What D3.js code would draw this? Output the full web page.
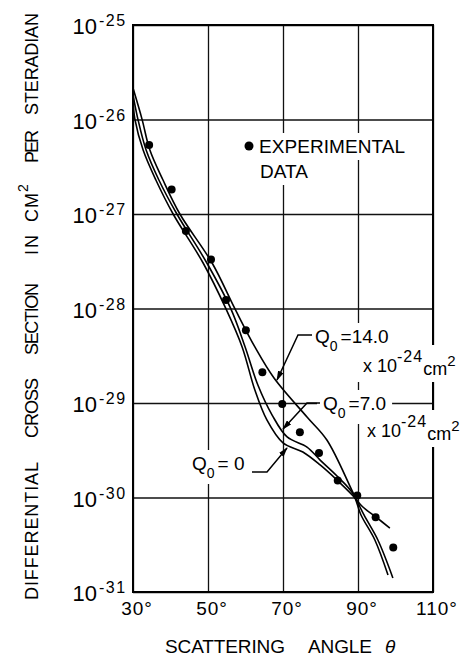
<!DOCTYPE html>
<html>
<head>
<meta charset="utf-8">
<script src="https://cdn.jsdelivr.net/npm/d3@7"></script>
<style>
body { margin: 0; background: #fff; }
svg { display: block; font-family: "Liberation Sans", Arial, sans-serif; }
</style>
</head>
<body>
<div id="chart"></div>
<script>
// scattering angle (degrees) and differential cross section (cm^2 per steradian)
var expAngle = [34.3, 40.3, 44.1, 50.8, 54.8, 60.1, 64.5, 69.8, 74.5, 79.6, 84.6, 89.8, 94.7, 99.4];
var expValue = [5.37e-27, 1.82e-27, 6.61e-28, 3.31e-28, 1.23e-28, 5.89e-29, 2.11e-29, 9.77e-30,
                4.9e-30, 2.95e-30, 1.51e-30, 1.05e-30, 6.17e-31, 2.95e-31];

// Q0 = 14.0 x 10^-24 cm^2
var q14Angle = [30, 32.4, 34.5, 38.0, 42.5, 51.1, 57.2, 62.5, 67.6, 76.4, 81.7, 88.7, 91.6, 95.3, 99.3];
var q14Value = [2.15e-26, 1.01e-26, 4.75e-27, 2.29e-27, 1.0e-27, 3.03e-28, 9.9e-29, 3.92e-29,
                1.84e-29, 7.11e-30, 4.06e-30, 1.12e-30, 6.53e-31, 3.55e-31, 1.41e-31];

// Q0 = 7.0 x 10^-24 cm^2
var q7Angle = [30, 31.3, 33.5, 36.9, 41.7, 49.7, 56.1, 59.9, 63.3, 67.1, 71.1, 76.4, 79.9, 84.4,
               88.7, 90.8, 94.5, 98.0];
var q7Value = [1.82e-26, 1.01e-26, 4.75e-27, 2.29e-27, 1.0e-27, 3.03e-28, 9.9e-29, 3.92e-29,
               1.55e-29, 7.46e-30, 4.37e-30, 3.42e-30, 2.49e-30, 1.69e-30, 1.09e-30, 6.53e-31,
               3.55e-31, 1.51e-31];

// Q0 = 0
var q0Angle = [30, 30.5, 32.7, 36.1, 40.7, 48.7, 54.8, 59.1, 62.5, 65.7, 70.0, 75.3, 79.9, 84.4,
               88.7, 91.3, 95.1, 98.5];
var q0Value = [1.57e-26, 1.01e-26, 4.75e-27, 2.29e-27, 1.0e-27, 3.03e-28, 9.9e-29, 3.92e-29,
               1.37e-29, 6.61e-30, 3.78e-30, 3.03e-30, 2.21e-30, 1.53e-30, 1.04e-30, 7.93e-31,
               6.07e-31, 4.75e-31];

var xTicks = [30, 50, 70, 90, 110];
var yExponents = [-25, -26, -27, -28, -29, -30, -31];

var width = 473,
    height = 659;

var x = d3.scaleLinear().domain([30, 110]).range([133, 433]);
var y = d3.scaleLog().domain([1e-31, 1e-25]).range([592, 25]);

var svg = d3.select("#chart")
    .append("svg")
    .attr("width", width)
    .attr("height", height);

svg.append("defs").append("marker")
    .attr("id", "arrow")
    .attr("markerUnits", "userSpaceOnUse")
    .attr("markerWidth", 10)
    .attr("markerHeight", 6)
    .attr("refX", 9)
    .attr("refY", 3)
    .attr("orient", "auto")
    .append("path")
    .attr("d", "M0,0 L10,3 L0,6 Z")
    .attr("fill", "#000");

var gridLayer = svg.append("g");
var maskLayer = svg.append("g");
var dataLayer = svg.append("g");
var textLayer = svg.append("g");

// grid lines
gridLayer.append("g")
    .attr("transform", "translate(0,592)")
    .call(d3.axisBottom(x).tickValues(xTicks).tickSize(-567).tickFormat(""))
    .call(g => g.select(".domain").remove())
    .selectAll("line")
    .attr("stroke", "#111")
    .attr("stroke-width", 1.3);

gridLayer.append("g")
    .attr("transform", "translate(133,0)")
    .call(d3.axisLeft(y).tickValues(yExponents.map(e => Math.pow(10, e))).tickSize(-300).tickFormat(""))
    .call(g => g.select(".domain").remove())
    .selectAll("line")
    .attr("stroke", "#111")
    .attr("stroke-width", 1.3);

gridLayer.append("rect")
    .attr("x", x(30)).attr("y", y(1e-25))
    .attr("width", x(110) - x(30)).attr("height", y(1e-31) - y(1e-25))
    .attr("fill", "none").attr("stroke", "#000").attr("stroke-width", 2);

// y tick labels: 10 with exponent
var yLab = svg.append("g").attr("fill", "#000");
yExponents.forEach(function (e) {
    var yy = y(Math.pow(10, e));
    yLab.append("text")
        .attr("x", 97).attr("y", yy + 9)
        .attr("text-anchor", "end")
        .attr("font-size", 22)
        .text("10");
    yLab.append("text")
        .attr("x", 99).attr("y", yy + 1)
        .attr("font-size", 16)
        .attr("letter-spacing", 1.5)
        .text("-" + Math.abs(e));
});

// x tick labels
svg.append("g").selectAll("text")
    .data(xTicks)
    .enter().append("text")
    .attr("x", d => x(d))
    .attr("dx", 4)
    .attr("y", 615)
    .attr("text-anchor", "middle")
    .attr("font-size", 19)
    .attr("letter-spacing", 1)
    .text(d => d + "°");

// axis titles
var xWords = [["SCATTERING", 165, 120], ["ANGLE", 308, 64]];
svg.append("g").selectAll("text")
    .data(xWords)
    .enter().append("text")
    .attr("x", d => d[1]).attr("y", 653)
    .attr("font-size", 19)
    .attr("textLength", d => d[2])
    .attr("lengthAdjust", "spacing")
    .text(d => d[0]);
svg.append("text")
    .attr("x", 385).attr("y", 653)
    .attr("font-size", 19).attr("font-style", "italic")
    .text("θ");

var yWords = [["DIFFERENTIAL", 600, 138], ["CROSS", 438, 60], ["SECTION", 355, 72],
              ["IN", 255, 20], ["CM", 222, 29], ["PER", 163, 33], ["STERADIAN", 115, 102]];
var yTitle = svg.append("g").attr("transform", "translate(38,0) rotate(-90)");
yTitle.selectAll("text")
    .data(yWords)
    .enter().append("text")
    .attr("x", d => -d[1]).attr("y", 0)
    .attr("font-size", 18)
    .attr("textLength", d => d[2])
    .attr("lengthAdjust", "spacing")
    .text(d => d[0]);
yTitle.append("text")
    .attr("x", -192).attr("y", -10)
    .attr("font-size", 14)
    .text("2");

// theory curves
var line = d3.line()
    .x(d => x(d[0]))
    .y(d => y(d[1]))
    .curve(d3.curveCatmullRom.alpha(0.5));

[[q0Angle, q0Value], [q7Angle, q7Value], [q14Angle, q14Value]].forEach(function (s) {
    dataLayer.append("path")
        .datum(d3.zip(s[0], s[1]))
        .attr("d", line)
        .attr("fill", "none")
        .attr("stroke", "#000")
        .attr("stroke-width", 1.6);
});

// experimental points
dataLayer.selectAll("circle")
    .data(d3.zip(expAngle, expValue))
    .enter().append("circle")
    .attr("cx", d => x(d[0]))
    .attr("cy", d => y(d[1]))
    .attr("r", 4)
    .attr("fill", "#000");

// legend
textLayer.append("circle").attr("cx", 249).attr("cy", 146).attr("r", 4.5).attr("fill", "#000");
var masked = [];
masked.push(textLayer.append("text").attr("x", 259).attr("y", 153).attr("font-size", 19)
    .attr("textLength", 146).attr("lengthAdjust", "spacing").text("EXPERIMENTAL"));
masked.push(textLayer.append("text").attr("x", 260).attr("y", 178).attr("font-size", 19)
    .text("DATA"));

// Q0 labels
function qLabel(px, py, rest) {
    var t = textLayer.append("text").attr("x", px).attr("y", py).attr("font-size", 19);
    t.append("tspan").text("Q");
    t.append("tspan").attr("dy", 8).attr("font-size", 14).text("0");
    t.append("tspan").attr("dy", -8).attr("dx", 3).text(rest);
    masked.push(t);
}
function unitLabel(px, py) {
    var t = textLayer.append("text").attr("x", px).attr("y", py).attr("font-size", 18);
    t.append("tspan").text("x 10");
    t.append("tspan").attr("dy", -10).attr("font-size", 16).attr("letter-spacing", 1).text("-24");
    t.append("tspan").attr("dy", 13).text("cm");
    t.append("tspan").attr("dy", -9).attr("font-size", 15).text("2");
    masked.push(t);
}
qLabel(315, 343, "=14.0");
unitLabel(363, 372);
qLabel(323, 410, "=7.0");
unitLabel(367, 437);
qLabel(192, 470, "= 0");

// leader lines with arrows
var leaders = [
    [[312, 335], [298, 335], [277, 380]],
    [[320, 403], [307, 403], [283, 429]],
    [[252, 472], [267, 472], [287, 448]]
];
leaders.forEach(function (p) {
    textLayer.append("path")
        .attr("d", d3.line()(p))
        .attr("fill", "none")
        .attr("stroke", "#000")
        .attr("stroke-width", 1.5)
        .attr("marker-end", "url(#arrow)");
});

// white boxes behind labels break the grid like the original
masked.forEach(function (t) {
    var b = t.node().getBBox();
    maskLayer.append("rect")
        .attr("x", b.x - 6).attr("y", b.y - 3)
        .attr("width", b.width + 12).attr("height", b.height + 6)
        .attr("fill", "#fff");
});
</script>
</body>
</html>
